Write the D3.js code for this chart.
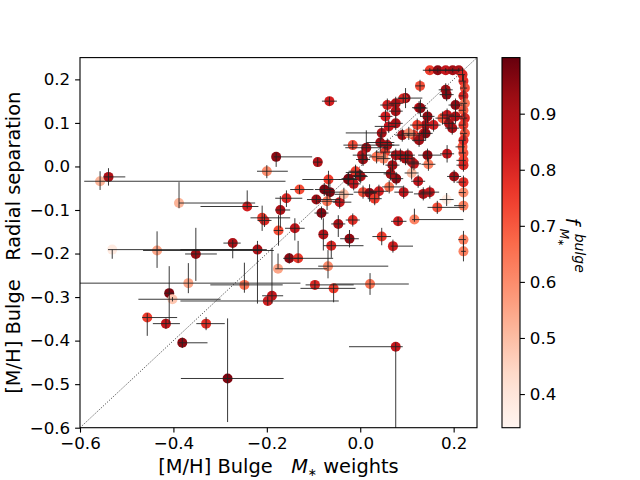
<!DOCTYPE html>
<html>
<head>
<meta charset="utf-8">
<script src="https://cdn.jsdelivr.net/npm/d3@7"></script>
<style>
  body { margin: 0; background: #fff; }
  svg { display: block; font-family: "DejaVu Sans", sans-serif; }
</style>
</head>
<body>
<svg id="chart" width="640" height="480"></svg>
<script>
// [M/H] bulge (M* weights) vs [M/H] bulge (radial separation), coloured by bulge mass fraction

var bulgeMH = [-0.557,-0.539,-0.388,-0.531,-0.435,-0.352,-0.368,-0.409,-0.402,-0.456,
  -0.416,-0.330,-0.381,-0.273,-0.220,-0.062,-0.023,0.070,-0.152,-0.133,
  -0.176,-0.069,-0.248,-0.097,-0.057,0.021,-0.189,-0.198,-0.284,0.076,
  -0.180,-0.091,-0.200,-0.068,-0.130,-0.077,-0.065,-0.158,-0.094,-0.242,
  -0.171,-0.071,-0.083,-0.210,-0.205,-0.175,-0.140,-0.079,-0.044,-0.047,
  -0.066,0.013,-0.016,0.043,0.046,0.004,0.006,0.035,0.053,-0.010,
  0.001,-0.026,-0.035,0.006,0.020,0.040,0.031,-0.016,0.062,0.050,
  0.086,0.102,0.144,0.186,0.221,0.069,0.077,0.065,0.115,0.146,
  0.110,0.124,0.201,0.221,0.221,0.221,-0.010,-0.025,-0.001,-0.014,
  0.093,0.135,0.149,0.185,0.221,0.165,0.116,0.081,0.046,0.221,
  0.221,0.149,0.166,0.183,0.198,0.211,0.219,0.128,0.183,0.185,
  0.097,0.092,0.126,0.129,0.058,0.076,0.054,0.076,0.061,0.076,
  0.144,0.140,0.176,0.186,0.204,0.204,0.197,0.122,0.115,0.136,
  0.090,0.104,0.126,0.140,0.058,0.076,0.097,0.111,0.219,0.157,
  0.190,0.221,0.224,0.221,0.224,0.221,0.224,0.221,0.224,0.221,0.221];

var radialMH = [-0.034,-0.024,-0.084,-0.191,-0.193,-0.201,-0.268,-0.291,-0.305,-0.347,
  -0.361,-0.361,-0.405,-0.176,-0.191,-0.182,-0.166,-0.183,-0.211,-0.211,
  -0.235,-0.229,-0.272,-0.272,-0.280,-0.270,-0.297,-0.309,-0.487,-0.414,
  0.022,0.010,-0.011,-0.030,-0.053,-0.053,-0.059,-0.073,-0.076,-0.092,
  -0.100,-0.080,-0.107,-0.118,-0.124,-0.147,-0.142,-0.156,-0.082,-0.132,
  0.150,0.043,0.049,0.055,0.077,0.026,0.016,0.022,0.033,-0.014,
  -0.023,-0.030,-0.064,-0.059,-0.061,-0.057,-0.074,-0.123,-0.047,0.018,
  0.026,0.026,0.026,0.029,0.031,0.003,-0.028,-0.017,0.006,0.005,
  -0.015,-0.034,-0.023,-0.036,0.014,0.003,-0.011,-0.028,-0.021,-0.040,
  -0.059,-0.063,-0.059,-0.076,-0.090,-0.094,-0.122,-0.126,-0.161,-0.168,
  -0.195,0.221,0.221,0.221,0.221,0.221,0.211,0.185,0.176,0.165,
  0.157,0.156,0.135,0.134,0.141,0.145,0.115,0.127,0.092,0.099,
  0.115,0.095,0.111,0.118,0.141,0.115,0.088,0.095,0.072,0.076,
  0.072,0.076,0.060,0.076,0.049,0.026,0.018,0.010,0.045,0.095,
  0.099,0.196,0.180,0.162,0.145,0.129,0.111,0.095,0.076,0.060,-0.060];

var fBulge = [0.52,0.90,0.52,0.38,0.55,0.93,0.55,0.97,0.48,0.75,
  0.85,0.78,0.95,0.90,0.90,0.80,0.95,0.82,0.95,0.76,
  0.55,0.60,0.65,0.80,0.75,0.65,0.85,0.82,0.97,0.85,
  0.95,0.88,0.60,0.75,0.72,0.97,0.97,0.80,0.93,0.82,
  0.90,0.65,0.96,0.75,0.80,0.72,0.85,0.88,0.85,0.90,
  0.82,0.92,0.72,0.93,0.90,0.85,0.92,0.65,0.75,0.95,
  0.85,0.95,0.50,0.72,0.95,0.82,0.75,0.78,0.65,0.60,
  0.92,0.90,0.95,0.85,0.72,0.92,0.95,0.92,0.85,0.62,
  0.50,0.85,0.92,0.78,0.74,0.80,0.75,0.97,0.92,0.85,
  0.85,0.90,0.85,0.38,0.62,0.72,0.62,0.82,0.75,0.62,
  0.62,0.75,0.95,0.85,0.92,0.90,0.80,0.72,0.92,0.95,
  0.95,0.80,0.85,0.95,0.82,0.90,0.82,0.90,0.85,0.90,
  0.95,0.92,0.70,0.85,0.95,0.90,0.90,0.75,0.75,0.82,
  0.92,0.60,0.92,0.95,0.90,0.90,0.92,0.85,0.70,0.82,
  0.92,0.78,0.72,0.80,0.65,0.70,0.80,0.75,0.70,0.78,0.60];

// error bars (lower / upper offsets)
var xErrLo = [0.034,0.011,0.000,0.009,0.030,0.023,0.232,0.010,0.073,0.011,
  0.028,0.021,0.009,0.020,0.165,0.017,0.020,0.005,0.013,0.010,
  0.006,0.021,0.073,0.020,0.071,0.080,0.021,0.187,0.100,0.100,
  0.005,0.010,0.021,0.056,0.020,0.020,0.015,0.024,0.020,0.100,
  0.011,0.020,0.015,0.025,0.015,0.010,0.021,0.010,0.015,0.015,
  0.016,0.045,0.020,0.030,0.077,0.020,0.015,0.015,0.020,0.021,
  0.015,0.020,0.020,0.020,0.015,0.020,0.015,0.015,0.015,0.015,
  0.020,0.015,0.020,0.015,0.010,0.015,0.015,0.015,0.015,0.015,
  0.015,0.015,0.015,0.015,0.015,0.015,0.015,0.015,0.015,0.015,
  0.020,0.020,0.020,0.015,0.020,0.021,0.005,0.015,0.020,0.011,
  0.005,0.015,0.020,0.015,0.015,0.015,0.010,0.010,0.015,0.015,
  0.017,0.010,0.015,0.015,0.015,0.015,0.015,0.015,0.030,0.015,
  0.015,0.015,0.015,0.015,0.015,0.015,0.015,0.015,0.015,0.015,
  0.015,0.015,0.015,0.015,0.015,0.015,0.015,0.015,0.015,0.015,
  0.015,0.010,0.010,0.010,0.010,0.010,0.010,0.010,0.010,0.010,0.010];

var xErrHi = [0.397,0.036,0.163,0.300,0.250,0.045,0.240,0.010,0.103,0.064,
  0.030,0.040,0.054,0.017,0.020,0.069,0.020,0.043,0.094,0.010,
  0.105,0.129,0.082,0.083,0.047,0.083,0.024,0.152,0.120,0.015,
  0.077,0.010,0.045,0.026,0.030,0.020,0.030,0.034,0.051,0.024,
  0.021,0.020,0.015,0.060,0.015,0.010,0.021,0.010,0.025,0.015,
  0.016,0.047,0.100,0.030,0.010,0.020,0.015,0.015,0.020,0.075,
  0.015,0.020,0.020,0.030,0.015,0.020,0.015,0.015,0.030,0.015,
  0.020,0.015,0.030,0.015,0.005,0.015,0.015,0.015,0.015,0.015,
  0.015,0.015,0.015,0.005,0.005,0.005,0.015,0.015,0.015,0.015,
  0.020,0.020,0.020,0.015,0.005,0.058,0.105,0.018,0.020,0.005,
  0.005,0.015,0.020,0.015,0.015,0.010,0.005,0.010,0.015,0.015,
  0.036,0.010,0.015,0.015,0.015,0.015,0.015,0.015,0.015,0.015,
  0.015,0.015,0.015,0.015,0.015,0.015,0.015,0.015,0.015,0.015,
  0.015,0.015,0.015,0.015,0.015,0.015,0.015,0.015,0.005,0.015,
  0.015,0.005,0.005,0.005,0.005,0.005,0.005,0.005,0.005,0.005,0.005];

var yErrLo = [0.020,0.020,0.012,0.021,0.040,0.062,0.023,0.069,0.005,0.042,
  0.012,0.015,0.012,0.035,0.124,0.028,0.020,0.015,0.012,0.010,
  0.000,0.028,0.018,0.010,0.032,0.025,0.018,0.010,0.100,0.250,
  0.023,0.010,0.016,0.020,0.010,0.015,0.015,0.020,0.010,0.005,
  0.041,0.020,0.015,0.030,0.015,0.035,0.028,0.037,0.015,0.030,
  0.010,0.030,0.010,0.020,0.015,0.020,0.015,0.015,0.015,0.015,
  0.015,0.015,0.015,0.015,0.020,0.015,0.015,0.015,0.015,0.015,
  0.015,0.015,0.015,0.020,0.015,0.015,0.015,0.015,0.015,0.015,
  0.015,0.015,0.015,0.015,0.015,0.015,0.015,0.015,0.015,0.015,
  0.015,0.015,0.015,0.015,0.015,0.015,0.005,0.010,0.020,0.020,
  0.023,0.005,0.005,0.005,0.005,0.005,0.015,0.014,0.015,0.015,
  0.023,0.010,0.015,0.020,0.015,0.015,0.015,0.015,0.015,0.015,
  0.015,0.015,0.015,0.015,0.015,0.015,0.015,0.015,0.015,0.015,
  0.015,0.015,0.015,0.015,0.015,0.015,0.015,0.015,0.015,0.015,
  0.015,0.015,0.015,0.015,0.015,0.015,0.015,0.015,0.015,0.015,0.015];

var yErrHi = [0.023,0.020,0.048,0.000,0.044,0.060,0.046,0.062,0.005,0.010,
  0.012,0.015,0.012,0.007,0.020,0.012,0.020,0.015,0.012,0.040,
  0.035,0.037,0.051,0.010,0.010,0.025,0.110,0.010,0.138,0.010,
  0.010,0.010,0.014,0.020,0.010,0.015,0.030,0.018,0.010,0.037,
  0.032,0.020,0.015,0.028,0.015,0.035,0.023,0.037,0.015,0.020,
  0.010,0.040,0.010,0.020,0.015,0.020,0.015,0.015,0.015,0.015,
  0.015,0.015,0.015,0.015,0.020,0.015,0.015,0.015,0.015,0.015,
  0.015,0.015,0.015,0.020,0.015,0.015,0.015,0.015,0.015,0.015,
  0.015,0.015,0.015,0.015,0.015,0.015,0.015,0.015,0.015,0.015,
  0.015,0.015,0.015,0.015,0.015,0.015,0.025,0.010,0.020,0.020,
  0.023,0.005,0.005,0.005,0.005,0.005,0.015,0.014,0.015,0.015,
  0.023,0.010,0.015,0.020,0.015,0.015,0.015,0.015,0.015,0.015,
  0.015,0.015,0.015,0.015,0.015,0.015,0.015,0.015,0.015,0.015,
  0.015,0.015,0.015,0.015,0.015,0.015,0.015,0.015,0.015,0.015,
  0.015,0.015,0.015,0.015,0.015,0.015,0.015,0.015,0.015,0.015,0.015];

var xTicks = [-0.6, -0.4, -0.2, 0.0, 0.2];
var yTicks = [-0.6, -0.5, -0.4, -0.3, -0.2, -0.1, 0.0, 0.1, 0.2];
var cbTicks = [0.4, 0.5, 0.6, 0.7, 0.8, 0.9];

var plotL = 80, plotR = 477, plotT = 57.6, plotB = 427.7;
var svg = d3.select("#chart");

var x = d3.scaleLinear().domain([-0.6, 0.25]).range([plotL, plotR]);
var y = d3.scaleLinear().domain([-0.6, 0.25]).range([plotB, plotT]);

// matplotlib "Reds" = linear ramp through the 9 brewer colours
var reds = d3.piecewise(d3.interpolateRgb, d3.schemeReds[9]);
var fMin = 0.34, fMax = 1.0;
var color = d3.scaleSequential(reds).domain([fMin, fMax]);

var data = bulgeMH.map(function(d, i){
  return {x: d, y: radialMH[i], f: fBulge[i],
    xl: xErrLo[i], xh: xErrHi[i], yl: yErrLo[i], yh: yErrHi[i]};
});

svg.append("clipPath").attr("id", "plotclip")
  .append("rect")
  .attr("x", plotL).attr("y", plotT)
  .attr("width", plotR - plotL).attr("height", plotB - plotT);

var plot = svg.append("g").attr("clip-path", "url(#plotclip)");

// one-to-one line
plot.append("line")
  .attr("x1", x(-0.6)).attr("y1", y(-0.6))
  .attr("x2", x(0.25)).attr("y2", y(0.25))
  .attr("stroke", "#333")
  .attr("stroke-width", 1)
  .attr("stroke-dasharray", "1,1.65");

plot.selectAll("circle.pt")
  .data(data)
  .enter()
  .append("circle")
  .attr("class", "pt")
  .attr("cx", function(d){ return x(d.x); })
  .attr("cy", function(d){ return y(d.y); })
  .attr("r", 5)
  .style("fill", function(d){ return color(d.f); });

var eb = plot.selectAll("g.eb")
  .data(data)
  .enter()
  .append("g")
  .attr("class", "eb")
  .attr("stroke", "#222")
  .attr("stroke-width", 0.9);

eb.append("line")
  .attr("x1", function(d){ return x(d.x - d.xl); })
  .attr("x2", function(d){ return x(d.x + d.xh); })
  .attr("y1", function(d){ return y(d.y); })
  .attr("y2", function(d){ return y(d.y); });

eb.append("line")
  .attr("x1", function(d){ return x(d.x); })
  .attr("x2", function(d){ return x(d.x); })
  .attr("y1", function(d){ return y(d.y - d.yl); })
  .attr("y2", function(d){ return y(d.y + d.yh); });

// axes
var fmt = d3.format(".1f");
var xAxis = svg.append("g")
  .attr("transform", "translate(0," + plotB + ")")
  .call(d3.axisBottom(x).tickValues(xTicks).tickFormat(fmt).tickSize(4.9).tickPadding(4.9));
var yAxis = svg.append("g")
  .attr("transform", "translate(" + plotL + ",0)")
  .call(d3.axisLeft(y).tickValues(yTicks).tickFormat(fmt).tickSize(4.9).tickPadding(4.9));

[xAxis, yAxis].forEach(function(a){
  a.select(".domain").remove();
  a.selectAll("line").attr("stroke", "#000").attr("stroke-width", 1.1);
  a.selectAll("text").attr("fill", "#000")
    .style("font-size", "16.7px").style("font-family", "DejaVu Sans");
});

svg.append("rect")
  .attr("x", plotL).attr("y", plotT)
  .attr("width", plotR - plotL).attr("height", plotB - plotT)
  .attr("fill", "none").attr("stroke", "#000").attr("stroke-width", 1.1);

// axis labels
var xl = svg.append("text")
  .attr("x", (plotL + plotR) / 2)
  .attr("y", 473)
  .attr("text-anchor", "middle")
  .style("font-size", "19.4px")
  .style("white-space", "pre");
xl.append("tspan").text("[M/H] Bulge   ");
xl.append("tspan").style("font-style", "italic").text("M");
xl.append("tspan").attr("dy", 3).style("font-size", "11px").text("\u2217");
xl.append("tspan").attr("dy", -3).text(" weights");

svg.append("text")
  .attr("transform", "translate(20," + (plotT + plotB) / 2 + ") rotate(-90)")
  .attr("text-anchor", "middle")
  .style("font-size", "19.4px")
  .style("white-space", "pre")
  .text("[M/H] Bulge   Radial separation");

// colour bar
var cbL = 502, cbR = 520;
var cb = d3.scaleLinear().domain([fMin, fMax]).range([plotB, plotT]);

var grad = svg.append("defs").append("linearGradient")
  .attr("id", "cbgrad")
  .attr("x1", 0).attr("y1", 1).attr("x2", 0).attr("y2", 0);
d3.range(0, 1.0001, 0.05).forEach(function(t){
  grad.append("stop")
    .attr("offset", t)
    .attr("stop-color", reds(t));
});

svg.append("rect")
  .attr("x", cbL).attr("y", plotT)
  .attr("width", cbR - cbL).attr("height", plotB - plotT)
  .attr("fill", "url(#cbgrad)")
  .attr("stroke", "#000").attr("stroke-width", 1.1);

var cbAxis = svg.append("g")
  .attr("transform", "translate(" + cbR + ",0)")
  .call(d3.axisRight(cb).tickValues(cbTicks).tickFormat(fmt).tickSize(4.9).tickPadding(4.9));
cbAxis.select(".domain").remove();
cbAxis.selectAll("line").attr("stroke", "#000").attr("stroke-width", 1.1);
cbAxis.selectAll("text").attr("fill", "#000")
  .style("font-size", "16.7px").style("font-family", "DejaVu Sans");

// colour bar label  f_{M*}^{bulge}, rotated 270
var cl = svg.append("g")
  .attr("transform", "translate(566," + (plotT + plotB) / 2 + ") rotate(90)")
  .style("font-style", "italic");
cl.append("text").attr("x", -25).attr("y", 0)
  .style("font-size", "19.4px").text("f");
cl.append("text").attr("x", -9).attr("y", -9)
  .style("font-size", "14px").text("bulge");
cl.append("text").attr("x", -14).attr("y", 6)
  .style("font-size", "12px").text("M");
cl.append("text").attr("x", -4).attr("y", 8)
  .style("font-size", "9px").style("font-style", "normal").text("\u2217");
</script>
</body>
</html>
